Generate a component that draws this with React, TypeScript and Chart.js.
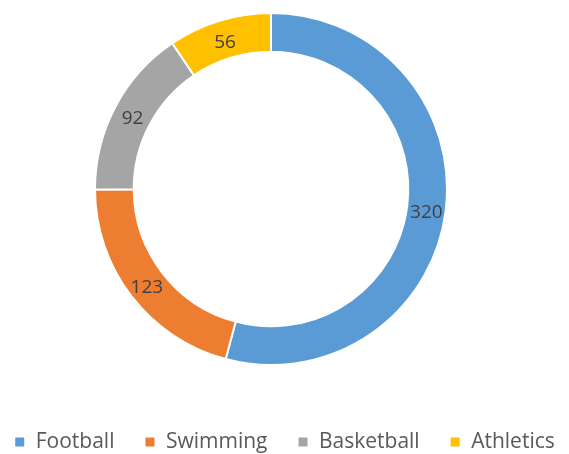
import React, { useEffect, useRef } from "react";
import { Chart, registerables } from "chart.js";

Chart.register(...registerables);

const categories = ["Football", "Swimming", "Basketball", "Athletics"];
const values = [320, 123, 92, 56];
const colors = ["#5B9BD5", "#ED7D31", "#A5A5A5", "#FFC000"];

const LEGEND_HEIGHT = 88;
const LEGEND_SLACK = 40;

const labelPlugin = {
  id: "sliceLabels",
  beforeInit(chart: any) {
    const legend = chart.legend;
    if (legend) {
      const orig = legend.fit;
      legend.fit = function () {
        this.maxWidth = 1000;
        orig.call(this);
        this.height = LEGEND_HEIGHT;
      };
    }
  },
  afterLayout(chart: any) {
    const legend = chart.legend;
    if (legend) {
      legend.left = -LEGEND_SLACK;
      legend.right = chart.width + LEGEND_SLACK;
      legend.width = chart.width + 2 * LEGEND_SLACK;
    }
  },
  afterDatasetsDraw(chart: any) {
    const ctx = chart.ctx;
    const meta = chart.getDatasetMeta(0);
    ctx.save();
    ctx.fillStyle = "#404040";
    ctx.font = "19px 'Open Sans', sans-serif";
    ctx.textAlign = "center";
    ctx.textBaseline = "middle";
    meta.data.forEach((arc: any, i: number) => {
      const p = arc.tooltipPosition();
      ctx.fillText(String(values[i]), p.x, p.y + 3);
    });
    ctx.restore();
  },
};

export default function App() {
  const ref = useRef<HTMLCanvasElement | null>(null);
  useEffect(() => {
    document.body.style.margin = "0";
    const chart = new Chart(ref.current!, {
      type: "doughnut",
      data: {
        labels: categories,
        datasets: [
          {
            data: values,
            backgroundColor: colors,
            borderColor: "#ffffff",
            borderWidth: 2,
          },
        ],
      },
      options: {
        animation: false,
        responsive: false,
        cutout: "78%",
        layout: { padding: { top: 12, bottom: 0, left: 0, right: 27 } },
        plugins: {
          tooltip: { enabled: false },
          legend: {
            position: "bottom",
            title: {
              display: true,
              text: "",
              font: { size: 10 },
              padding: { top: 23.5, bottom: 0 },
            },
            labels: {
              boxWidth: 11,
              boxHeight: 11,
              padding: 30,
              color: "#595959",
              font: { family: "'Open Sans', sans-serif", size: 21 },
            },
          },
        },
      },
      plugins: [labelPlugin],
    });
    return () => chart.destroy();
  }, []);
  return (
    <div style={{ width: 569, height: 454, background: "#fff" }}>
      <canvas ref={ref} width={569} height={454} />
    </div>
  );
}
